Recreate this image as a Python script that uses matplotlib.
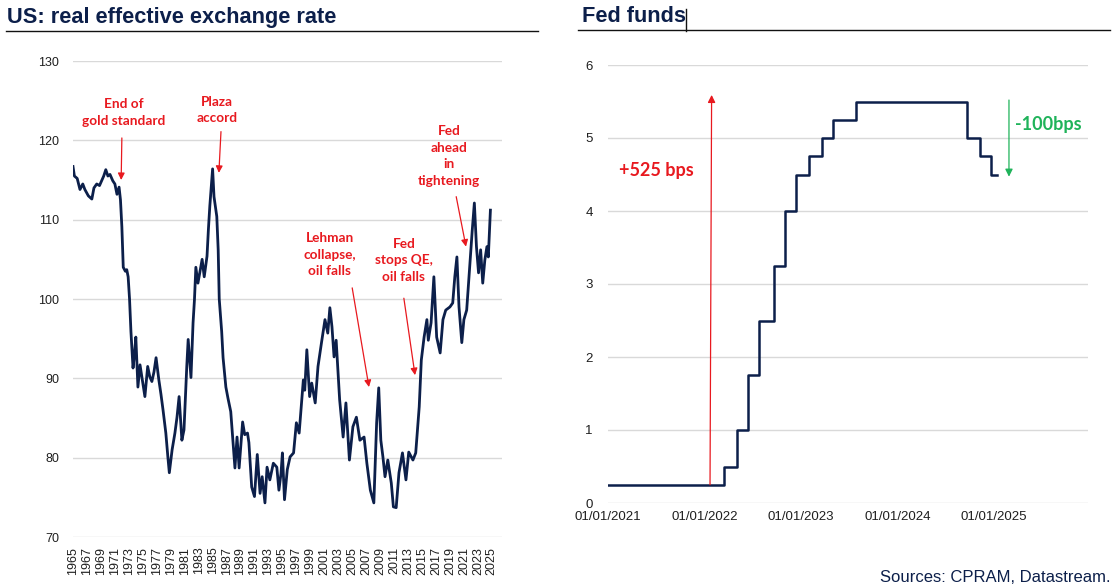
import matplotlib
matplotlib.use('Agg')
import matplotlib.pyplot as plt
import matplotlib.dates as mdates
from matplotlib.lines import Line2D
from datetime import date

# US real effective exchange rate (decimal year, index)
reer_years = [
    1965.0, 1965.2, 1965.6, 1966.0, 1966.4, 1966.7, 1967.2, 1967.7, 1968.0, 1968.4,
    1968.8, 1969.1, 1969.4, 1969.7, 1970.0, 1970.3, 1970.7, 1971.0, 1971.3, 1971.6,
    1971.8, 1972.0, 1972.2, 1972.5, 1972.7, 1972.9, 1973.1, 1973.3, 1973.6, 1973.8,
    1974.0, 1974.3, 1974.6, 1974.9, 1975.3, 1975.7, 1976.0, 1976.3, 1976.6, 1976.9,
    1977.3, 1977.6, 1977.9, 1978.3, 1978.6, 1978.8, 1979.2, 1979.6, 1979.9, 1980.2,
    1980.6, 1980.9, 1981.3, 1981.5, 1981.9, 1982.2, 1982.4, 1982.6, 1982.9, 1983.2,
    1983.5, 1983.8, 1984.2, 1984.4, 1984.6, 1985.0, 1985.2, 1985.6, 1985.8, 1985.95,
    1986.3, 1986.5, 1986.9, 1987.2, 1987.6, 1987.9, 1988.2, 1988.5, 1988.8, 1989.3,
    1989.6, 1990.0, 1990.2, 1990.6, 1991.0, 1991.4, 1991.8, 1992.1, 1992.5, 1992.8,
    1993.2, 1993.7, 1994.2, 1994.5, 1994.8, 1995.0, 1995.3, 1995.7, 1996.1, 1996.6,
    1997.0, 1997.4, 1998.0, 1998.2, 1998.5, 1998.9, 1999.2, 1999.7, 2000.1, 2000.6,
    2001.1, 2001.5, 2001.8, 2002.1, 2002.4, 2002.7, 2003.2, 2003.7, 2004.1, 2004.6,
    2005.1, 2005.6, 2006.1, 2006.7, 2007.1, 2007.6, 2008.1, 2008.5, 2008.8, 2009.1,
    2009.4, 2009.7, 2010.1, 2010.6, 2010.9, 2011.3, 2011.7, 2012.2, 2012.7, 2013.1,
    2013.7, 2014.1, 2014.6, 2014.9, 2015.3, 2015.7, 2015.9, 2016.3, 2016.7, 2017.1,
    2017.6, 2018.0, 2018.4, 2019.0, 2019.4, 2019.7, 2020.0, 2020.3, 2020.7, 2021.0,
    2021.4, 2021.7, 2022.2, 2022.5, 2022.8, 2023.1, 2023.4, 2023.7, 2024.0, 2024.3,
    2024.5, 2024.8,
]
reer_values = [
    116.7, 115.5, 115.2, 113.8, 114.5, 113.8, 113.0, 112.6, 114.0, 114.5,
    114.3, 114.9, 115.5, 116.3, 115.5, 115.7, 114.9, 114.5, 113.2, 114.1,
    112.5, 109.1, 104.0, 103.5, 103.7, 102.8, 100.0, 95.9, 91.3, 93.0,
    95.2, 88.9, 91.7, 90.0, 87.7, 91.5, 90.2, 89.6, 90.8, 92.6,
    89.8, 88.0, 86.0, 83.1, 80.0, 78.1, 81.0, 83.1, 85.1, 87.7,
    82.2, 83.5, 91.5, 94.9, 90.1, 97.0, 99.9, 104.0, 102.0, 103.5,
    105.0, 102.8, 105.4, 108.8, 111.7, 116.4, 112.9, 110.4, 106.2, 100.0,
    95.9, 92.6, 88.9, 87.5, 85.8, 82.2, 78.7, 82.6, 78.7, 84.5,
    82.9, 83.1, 81.9, 76.3, 75.1, 80.4, 75.5, 77.6, 74.3, 78.8,
    77.2, 79.3, 78.8, 75.9, 78.0, 80.6, 74.7, 78.5, 80.1, 80.6,
    84.4, 83.1, 89.8, 88.5, 93.6, 87.7, 89.4, 86.9, 91.5, 94.5,
    97.4, 95.7, 98.9, 96.5, 92.7, 94.8, 87.3, 82.6, 86.9, 79.7,
    83.9, 85.1, 82.2, 82.6, 79.3, 75.9, 74.3, 84.4, 88.8, 82.2,
    80.1, 77.6, 79.7, 76.8, 73.8, 73.7, 78.1, 80.6, 77.2, 80.7,
    79.7, 80.6, 86.4, 92.3, 95.2, 97.4, 94.8, 97.0, 102.8, 95.2,
    93.2, 97.4, 98.6, 99.0, 99.5, 102.8, 105.3, 99.0, 94.5, 97.4,
    98.6, 102.4, 108.7, 112.1, 106.6, 103.3, 106.2, 102.0, 104.9, 106.6,
    105.3, 111.2,
]
reer_ticks = list(range(1965, 2026, 2))

# Fed funds target (upper bound), value from each date on
fed_dates = [
    date(2021, 1, 1), date(2022, 3, 17), date(2022, 5, 5), date(2022, 6, 16),
    date(2022, 7, 28), date(2022, 9, 22), date(2022, 11, 3), date(2022, 12, 15),
    date(2023, 2, 2), date(2023, 3, 23), date(2023, 5, 4), date(2023, 7, 27),
    date(2024, 9, 19), date(2024, 11, 8), date(2024, 12, 19), date(2025, 1, 10),
]
fed_rates = [0.25, 0.50, 1.00, 1.75, 2.50, 3.25, 4.00, 4.50,
             4.75, 5.00, 5.25, 5.50, 5.00, 4.75, 4.50, 4.50]
fed_ticks = [date(2021, 1, 1), date(2022, 1, 1), date(2023, 1, 1),
             date(2024, 1, 1), date(2025, 1, 1)]

NAVY = '#0c1f4a'
RED = '#e8191f'
GREEN = '#1fb35a'
GRID = '#d9d9d9'
TXT = '#1f1f1f'
ANN_FONT = ['Lato', 'DejaVu Sans']

plt.rcParams['font.family'] = ['Liberation Sans', 'DejaVu Sans']

fig = plt.figure(figsize=(11.2, 5.87), dpi=100)

# ---- left panel
ax1 = fig.add_axes([73 / 1120, 1 - 537 / 587, 429 / 1120, 476 / 587])
ax1.plot(reer_years, reer_values, color=NAVY, lw=2.0, zorder=3)
ax1.set_xlim(1965, 2026.46)
ax1.set_ylim(70, 130)
ax1.set_yticks(range(70, 131, 10))
ax1.set_xticks(reer_ticks)
ax1.set_xticklabels([str(y) for y in reer_ticks], rotation=90)
ax1.grid(axis='y', color=GRID, lw=1)
ax1.set_axisbelow(True)
for s in ax1.spines.values():
    s.set_visible(False)
ax1.tick_params(axis='both', length=0, labelsize=9, colors=TXT)
ax1.tick_params(axis='y', pad=10)
ax1.tick_params(axis='x', pad=7)

# label, arrow tip, arrow start, text centre
ann_left = [
    ('End of\ngold standard', (1971.9, 115.0), (1972.0, 120.3), (1972.2, 123.5)),
    ('Plaza\naccord', (1985.9, 115.9), (1986.2, 121.1), (1985.6, 123.8)),
    ('Lehman\ncollapse,\noil falls', (2007.4, 88.9), (2005.0, 101.4), (2001.8, 105.6)),
    ('Fed\nstops QE,\noil falls', (2014.0, 90.4), (2012.4, 100.1), (2012.4, 104.9)),
    ('Fed\nahead\nin\ntightening', (2021.3, 106.6), (2019.9, 112.9), (2018.9, 118.0)),
]
for label, tip, start, txt in ann_left:
    ax1.annotate('', xy=tip, xytext=start,
                 arrowprops=dict(arrowstyle='-|>', color=RED, lw=0.9,
                                 mutation_scale=10, shrinkA=0, shrinkB=0))
    ax1.text(txt[0], txt[1], label, color=RED, fontsize=9.8, fontweight='bold',
             family=ANN_FONT, ha='center', va='center', linespacing=1.45)

# ---- right panel
ax2 = fig.add_axes([608 / 1120, 1 - 503 / 587, 480 / 1120, 438 / 587])
ax2.plot(fed_dates, fed_rates, color=NAVY, lw=1.8, drawstyle='steps-post', zorder=3)
ax2.set_xlim(date(2021, 1, 1), date(2025, 12, 22))
ax2.set_ylim(0, 6)
ax2.set_yticks(range(0, 7))
ax2.set_xticks(fed_ticks)
ax2.xaxis.set_major_formatter(mdates.DateFormatter('%d/%m/%Y'))
ax2.grid(axis='y', color=GRID, lw=1)
ax2.set_axisbelow(True)
for s in ax2.spines.values():
    s.set_visible(False)
ax2.tick_params(axis='both', length=0, labelsize=9.5, colors=TXT)
ax2.tick_params(axis='y', pad=11)
ax2.tick_params(axis='x', pad=6)

ax2.annotate('', xy=(date(2022, 1, 28), 5.59), xytext=(date(2022, 1, 22), 0.25),
             arrowprops=dict(arrowstyle='-|>', color=RED, lw=0.9,
                             mutation_scale=11, shrinkA=0, shrinkB=0))
ax2.text(date(2021, 7, 3), 4.55, '+525 bps', color=RED, fontsize=13,
         fontweight='bold', family=ANN_FONT, ha='center', va='center')
ax2.annotate('', xy=(date(2025, 2, 26), 4.47), xytext=(date(2025, 2, 26), 5.52),
             arrowprops=dict(arrowstyle='-|>', color=GREEN, lw=0.9,
                             mutation_scale=11, shrinkA=0, shrinkB=0))
ax2.text(date(2025, 3, 22), 5.18, '-100bps', color=GREEN, fontsize=13,
         fontweight='bold', family=ANN_FONT, ha='left', va='center')

# ---- titles, underlines, source
fig.text(7 / 1120, 1 - 17 / 587, 'US: real effective exchange rate', fontsize=15.7,
         fontweight='bold', color=NAVY, ha='left', va='center')
fig.text(582 / 1120, 1 - 17 / 587, 'Fed funds', fontsize=15.7,
         fontweight='bold', color=NAVY, ha='left', va='center')
fig.add_artist(Line2D([6 / 1120, 538 / 1120], [1 - 31 / 587] * 2, color='#111111', lw=1))
fig.add_artist(Line2D([578 / 1120, 1110 / 1120], [1 - 30 / 587] * 2, color='#111111', lw=1))
fig.add_artist(Line2D([686 / 1120] * 2, [1 - 9 / 587, 1 - 31 / 587], color='#111111', lw=1))
fig.text(1111 / 1120, 1 - 577 / 587, 'Sources: CPRAM, Datastream.', fontsize=12,
         color=NAVY, ha='right', va='center')

fig.savefig('out.png', dpi=100)
